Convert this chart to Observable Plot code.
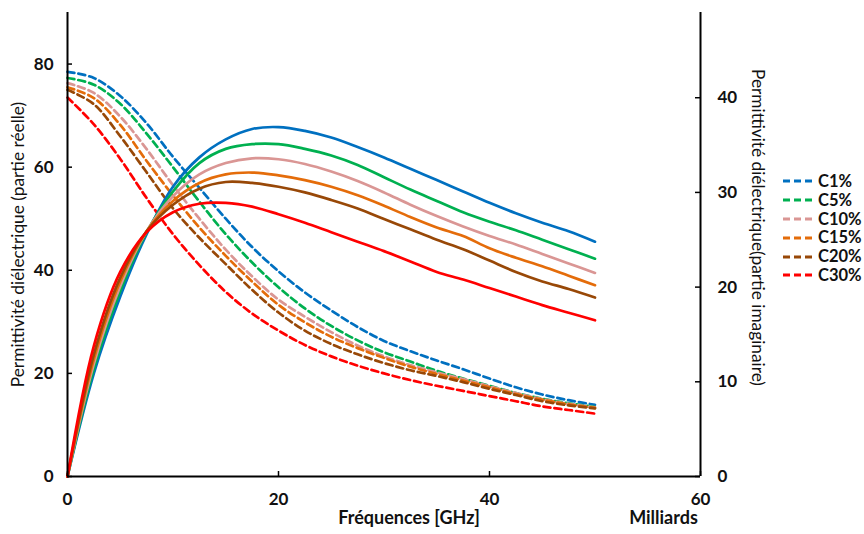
<!DOCTYPE html>
<html>
<head>
<meta charset="utf-8">
<script src="https://cdn.jsdelivr.net/npm/d3@7"></script>
<script src="https://cdn.jsdelivr.net/npm/@observablehq/plot@0.6"></script>
<style>
  body { margin: 0; background: #fff; font-family: Lato, "Open Sans", sans-serif; }
  #wrap { position: relative; width: 864px; height: 534px; }
  #legend { position: absolute; left: 782px; top: 172px; font-weight: bold; font-size: 16.5px; line-height: 18.8px; color: #111; white-space: nowrap; }
  #legend .row { height: 18.8px; display: flex; align-items: center; }
  #legend svg { margin-right: 4px; flex: none; }
</style>
</head>
<body>
<div id="wrap"><div id="legend"></div></div>
<script>
// Frequencies (GHz)
const freq = [0, 2.5, 5, 7.5, 10, 12.5, 15, 17.5, 20, 22.5, 25, 27.5, 30, 32.5, 35, 37.5, 40, 42.5, 45, 47.5, 50];
const series = ["C1%", "C5%", "C10%", "C15%", "C20%", "C30%"];
const colors = ["#0070C0", "#00B050", "#DA9694", "#E46C0A", "#984807", "#FF0000"];

// Real part (left axis), dashed
const realC1  = [78.5, 77.3, 73.8, 68.5, 62.0, 56.0, 50.0, 44.5, 39.8, 35.7, 32.2, 29.0, 26.3, 24.3, 22.5, 20.8, 19.0, 17.3, 15.9, 14.8, 13.9];
const realC5  = [77.3, 76.0, 72.3, 66.5, 60.0, 53.3, 47.0, 41.5, 36.7, 32.6, 29.2, 26.4, 24.1, 22.3, 20.5, 19.0, 17.6, 16.2, 15.1, 14.2, 13.5];
const realC10 = [76.3, 74.4, 69.8, 63.5, 56.5, 50.0, 44.0, 38.8, 34.3, 31.0, 28.0, 25.4, 23.3, 21.6, 20.2, 18.9, 17.5, 16.2, 15.0, 14.1, 13.4];
const realC15 = [75.5, 73.4, 68.2, 61.2, 54.5, 48.3, 42.8, 37.8, 33.3, 29.9, 27.1, 24.9, 23.0, 21.3, 19.9, 18.6, 17.3, 16.0, 14.9, 14.0, 13.3];
const realC20 = [75.0, 72.2, 66.0, 59.0, 52.0, 46.3, 41.2, 36.2, 31.8, 28.3, 25.7, 23.7, 22.0, 20.6, 19.5, 18.3, 17.0, 15.8, 14.6, 13.8, 13.2];
const realC30 = [73.5, 68.3, 61.6, 54.0, 47.0, 41.0, 35.8, 31.6, 28.3, 25.5, 23.3, 21.5, 20.0, 18.7, 17.6, 16.6, 15.6, 14.6, 13.6, 12.9, 12.2];

// Imaginary part (right axis), solid
const imagC1  = [0, 10.9, 19.0, 25.6, 30.6, 33.7, 35.6, 36.7, 36.9, 36.5, 35.8, 34.8, 33.7, 32.5, 31.3, 30.1, 28.9, 27.8, 26.8, 25.9, 24.8];
const imagC5  = [0, 11.4, 19.6, 25.8, 30.1, 33.1, 34.6, 35.1, 35.1, 34.6, 33.9, 32.9, 31.6, 30.3, 29.1, 27.9, 26.9, 26.0, 25.0, 24.0, 23.0];
const imagC10 = [0, 11.9, 20.1, 25.9, 29.6, 31.9, 33.1, 33.6, 33.5, 33.0, 32.2, 31.2, 30.0, 28.7, 27.5, 26.4, 25.4, 24.5, 23.5, 22.5, 21.5];
const imagC15 = [0, 12.4, 20.6, 25.9, 29.1, 31.0, 31.9, 32.1, 31.8, 31.3, 30.6, 29.7, 28.6, 27.4, 26.3, 25.4, 24.1, 23.1, 22.2, 21.2, 20.2];
const imagC20 = [0, 12.9, 21.0, 25.9, 28.7, 30.4, 31.1, 31.0, 30.6, 30.0, 29.2, 28.3, 27.2, 26.1, 25.0, 24.0, 22.8, 21.6, 20.6, 19.8, 18.9];
const imagC30 = [0, 13.8, 21.6, 25.8, 27.9, 28.8, 28.9, 28.5, 27.7, 26.8, 25.8, 24.8, 23.8, 22.7, 21.6, 20.8, 19.9, 19.0, 18.1, 17.3, 16.5];

const xTicks = [0, 20, 40, 60];
const leftTicks = [0, 20, 40, 60, 80];
const rightTicks = [0, 10, 20, 30, 40];
const leftMax = 90, rightMax = 49;
const k = leftMax / rightMax;

const reals = [realC1, realC5, realC10, realC15, realC20, realC30];
const imags = [imagC1, imagC5, imagC10, imagC15, imagC20, imagC30];
const realData = [], imagData = [];
series.forEach((s, i) => {
  freq.forEach((f, j) => {
    realData.push({s, f, v: reals[i][j]});
    imagData.push({s, f, v: imags[i][j]});
  });
});

const frameW = 864 - 67 - 164, frameH = 534 - 12 - 58;

const chart = Plot.plot({
  width: 864, height: 534,
  marginLeft: 67, marginRight: 164, marginTop: 12, marginBottom: 58,
  style: {fontFamily: "Lato, 'Open Sans', sans-serif", fontSize: "17px", fontWeight: "bold", color: "#111", background: "#fff"},
  x: {domain: [0, 60]},
  y: {domain: [0, leftMax]},
  color: {domain: series, range: colors},
  marks: [
    Plot.line(realData, {x: "f", y: "v", z: "s", stroke: "s", strokeWidth: 2.7, strokeDasharray: "7,4", curve: "catmull-rom"}),
    Plot.line(imagData, {x: "f", y: d => d.v * k, z: "s", stroke: "s", strokeWidth: 2.7, curve: "catmull-rom"}),
    Plot.ruleX([0], {stroke: "#000", strokeWidth: 2}),
    Plot.ruleX([60], {stroke: "#000", strokeWidth: 2}),
    Plot.ruleY([0], {stroke: "#000", strokeWidth: 2}),
    Plot.tickY(leftTicks, {y: d => d, insetRight: frameW - 5, stroke: "#000", strokeWidth: 1.5}),
    Plot.tickY(rightTicks, {y: d => d * k, insetLeft: frameW - 5, stroke: "#000", strokeWidth: 1.5}),
    Plot.tickX(xTicks, {x: d => d, insetTop: frameH - 5, stroke: "#000", strokeWidth: 1.5}),
    Plot.axisY(leftTicks, {anchor: "left", tickSize: 0, tickPadding: 14, label: null}),
    Plot.axisY(rightTicks.map(d => d * k), {anchor: "right", tickSize: 0, tickPadding: 17, tickFormat: d => Math.round(d / k), label: null}),
    Plot.axisX(xTicks, {tickSize: 0, tickPadding: 16, label: null}),
    Plot.text(["Permittivité diélectrique (partie réelle)"], {text: d => d, frameAnchor: "left", textAnchor: "middle", dx: -49, rotate: -90, fontWeight: "normal", fontSize: 17.3}),
    Plot.text(["Permittivité diélectrique(partie imaginaire)"], {text: d => d, frameAnchor: "right", textAnchor: "middle", dx: 57, dy: -17, rotate: 90, fontWeight: "normal", fontSize: 17.3}),
    Plot.text(["Fréquences [GHz]"], {text: d => d, frameAnchor: "bottom", textAnchor: "middle", dx: 25, dy: 47, fontWeight: "bold", fontSize: 18}),
    Plot.text(["Milliards"], {text: d => d, frameAnchor: "bottom-right", textAnchor: "middle", dx: -37, dy: 47, fontWeight: "bold", fontSize: 18})
  ]
});
document.getElementById("wrap").prepend(chart);

const legend = document.getElementById("legend");
series.forEach((s, i) => {
  const row = document.createElement("div");
  row.className = "row";
  row.innerHTML = `<svg width="32" height="6"><line x1="1" y1="3" x2="32" y2="3" stroke="${colors[i]}" stroke-width="3" stroke-dasharray="7,4"/></svg><span>${s}</span>`;
  legend.appendChild(row);
});
</script>
</body>
</html>
